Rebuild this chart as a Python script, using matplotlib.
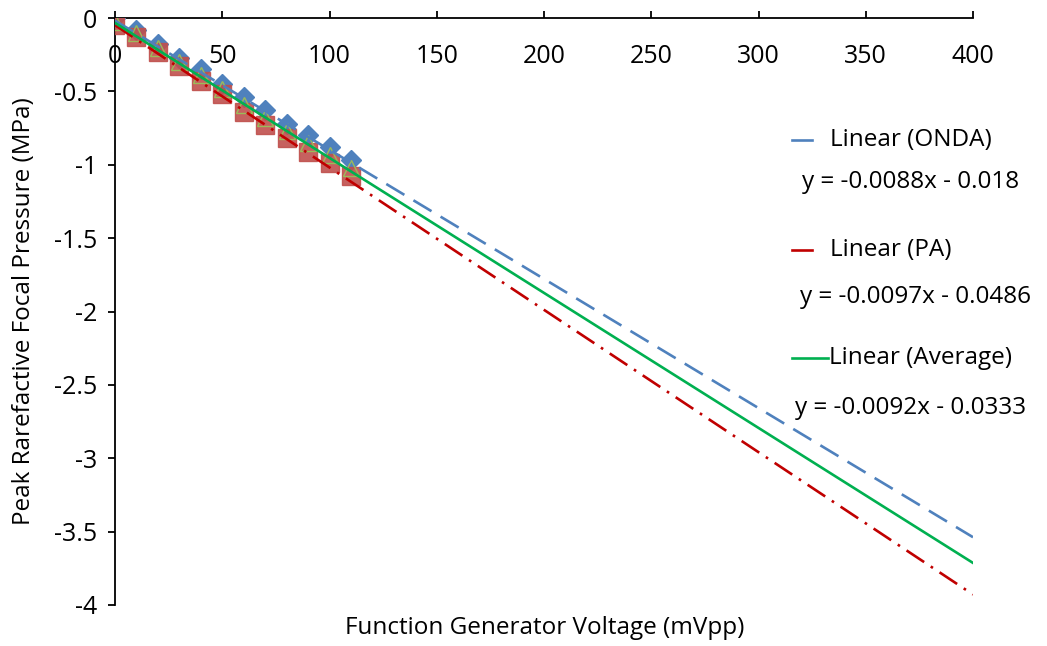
import numpy as np
import matplotlib.pyplot as plt
from matplotlib.lines import Line2D

plt.rcParams['font.family'] = ['Open Sans', 'DejaVu Sans']

# datos
voltage = [0, 10, 20, 30, 40, 50, 60, 70, 80, 90, 100, 110]
onda = [0.0, -0.08, -0.18, -0.27, -0.35, -0.45, -0.54, -0.63, -0.72, -0.80, -0.88, -0.97]
pa = [-0.05, -0.13, -0.23, -0.33, -0.43, -0.52, -0.64, -0.73, -0.82, -0.91, -0.99, -1.08]
average = [-0.025, -0.105, -0.205, -0.30, -0.39, -0.485, -0.59, -0.68, -0.77, -0.855, -0.935, -1.025]

# coeficientes de las líneas de tendencia (del gráfico)
slopes = [-0.0088, -0.0097, -0.0092]
intercepts = [-0.018, -0.0486, -0.0333]
trend_names = ['Linear (ONDA)', 'Linear (PA)', 'Linear (Average)']

xticks = [0, 50, 100, 150, 200, 250, 300, 350, 400]
yticks = [0, -0.5, -1, -1.5, -2, -2.5, -3, -3.5, -4]

blue = '#4F81BD'
red = '#C0504D'
red_line = '#C00000'
green = '#00B050'
olive = '#9BBB59'
fs = 17.5

fig = plt.figure(figsize=(10.47, 6.46), dpi=100)
ax = fig.add_axes([115/1047, 1 - 605/646, (973 - 115)/1047, (605 - 18)/646])

ax.plot(voltage, onda, linestyle='none', marker='D', markersize=10, color=blue, zorder=3)
ax.plot(voltage, pa, linestyle='none', marker='s', markersize=12.5, color=red, alpha=0.9, zorder=3)
ax.plot(voltage, average, linestyle='none', marker='^', markersize=12, markerfacecolor='none',
        markeredgecolor=olive, markeredgewidth=1.0, zorder=4)

# líneas de tendencia hasta 400
xfit = np.array([0, 400])
colors = [blue, red_line, green]
dashes = [(8, 4), (8, 3, 1, 3), None]
for m, b, col, dash in zip(slopes, intercepts, colors, dashes):
    line, = ax.plot(xfit, m * xfit + b, color=col, lw=1.9, zorder=5)
    if dash:
        line.set_dashes(dash)

ax.set_xlim(0, 400)
ax.set_ylim(-4, 0)
ax.set_xticks(xticks)
ax.set_yticks(yticks)
ax.set_yticklabels([f"{t:g}" for t in yticks])

ax.spines['bottom'].set_position(('data', 0))
ax.spines['top'].set_visible(False)
ax.spines['right'].set_visible(False)
for s in ['bottom', 'left']:
    ax.spines[s].set_linewidth(1.3)
ax.tick_params(axis='x', direction='in', length=5, width=1.3, labelsize=18, pad=19)
ax.tick_params(axis='y', direction='out', length=5, width=1.3, labelsize=18, pad=8)

fig.text(545/1047, 1 - 628/646, 'Function Generator Voltage (mVpp)', ha='center', va='center', fontsize=fs)
fig.text(24/1047, 1 - 311/646, 'Peak Rarefactive Focal Pressure (MPa)', ha='center', va='center',
         rotation=90, fontsize=fs)

# leyenda manual con ecuaciones
pos = [(140, 812, 830, 182, 802), (250, 812, 830, 297, 800), (358, 828, 829, 408, 795)]
for name, m, b, col, (yl, x1, xt, ye, xe) in zip(trend_names, slopes, intercepts, colors, pos):
    fig.add_artist(Line2D([792/1047, x1/1047], [1 - yl/646, 1 - yl/646], color=col, lw=1.9))
    fig.text(xt/1047, 1 - yl/646, name, ha='left', va='center', fontsize=fs)
    fig.text(xe/1047, 1 - ye/646, f"y = {m:g}x - {abs(b):g}", ha='left', va='center', fontsize=fs)

fig.savefig('out.png', dpi=100)
